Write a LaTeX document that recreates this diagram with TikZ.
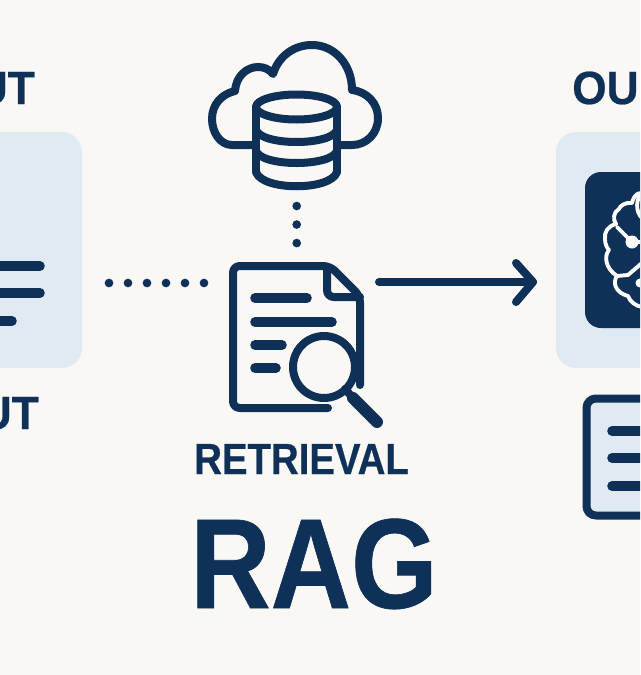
\documentclass[tikz,border=0pt]{standalone}
\usepackage{fontspec}
\setmainfont{Liberation Sans}
\newfontfamily\sidefont[FakeStretch=0.95, BoldFeatures={FakeBold=0.5}]{Liberation Sans}
\newfontfamily\capfont[FakeStretch=0.88, BoldFeatures={FakeBold=0.5}]{Liberation Sans}
\newfontfamily\bigcapfont[FakeStretch=0.87, BoldFeatures={FakeBold=0.5}]{Liberation Sans}
\usepackage{xcolor}
\definecolor{rag_navy}{HTML}{0F3157}
\definecolor{rag_pale}{HTML}{DFEAF3}
\definecolor{rag_paper}{HTML}{FAF8F5}
\tikzset{
  iconline/.style={line width=6pt, rag_navy, line cap=round, line join=round},
  textbar/.style={line width=7.2pt, rag_navy, line cap=round},
  dotline/.style={line width=6.5pt, rag_navy, line cap=round},
  brainline/.style={line width=2.9pt, white, line cap=round, line join=round},
  sidelabel/.style={inner sep=0pt, rag_navy, font=\sidefont\fontsize{34.9}{36}\bfseries\selectfont},
  paneltitle/.style={inner sep=0pt, rag_navy, font=\capfont\fontsize{32.7}{34}\bfseries\selectfont},
  bigtitle/.style={inner sep=0pt, rag_navy, font=\bigcapfont\fontsize{96}{98}\bfseries\selectfont}
}

\begin{document}
\begin{tikzpicture}[x=0.75pt, y=-0.75pt]
    % Paper and picture frame
    \fill[rag_paper] (0,0) rectangle (640,675);
    \path[use as bounding box, clip] (0,0) rectangle (640,675);

    % Input panel, cut by the left edge
    \fill[rag_pale, rounded corners=15pt] (-60,132) rectangle (82,368);
    \draw[textbar] (-10,266) -- (40,266);
    \draw[textbar] (-10,293) -- (40,293);
    \draw[textbar] (-10,321) -- (12,321);
    \node[sidelabel, anchor=base east] (inputtop) at (35,104) {UT};
    \node[sidelabel, anchor=base east] (inputbottom) at (39,429) {UT};

    % Cloud behind the database
    \draw[iconline] (253,145) -- (232,145)
      .. controls (220,145) and (212,132) .. (212,119)
      .. controls (212,104) and (222,94) .. (235,91)
      .. controls (236,76) and (247,67) .. (258,67)
      .. controls (264,67) and (269,69) .. (273,74)
      .. controls (279,55) and (295,45) .. (312,45)
      .. controls (335,45) and (352,65) .. (352,90)
      .. controls (368,92) and (378,104) .. (378,118)
      .. controls (378,134) and (366,145) .. (352,145) -- (338,145);

    % Database
    \draw[iconline] (296.5,107) ellipse [x radius=40.5, y radius=12.5];
    \draw[iconline] (256,107) -- (256,172);
    \draw[iconline] (337,107) -- (337,172);
    \foreach \bandy/\bandc in {130/146,151/167,172/191}
      \draw[iconline] (256,\bandy) .. controls (262,\bandc) and (331,\bandc) .. (337,\bandy);

    % Dotted links
    \coordinate (dbdots) at (296.7,206);
    \coordinate (docdots) at (296.7,244);
    \draw[dotline, dash pattern=on 0pt off 13.9pt] (dbdots) -- (docdots);
    \coordinate (inputdots) at (109,283);
    \coordinate (retrievedots) at (205,283);
    \draw[dotline, dash pattern=on 0pt off 14.25pt] (inputdots) -- (retrievedots);

    % Document with folded corner
    \draw[iconline, rounded corners=5pt] (328,408) -- (233,408) -- (233,266) -- (330,266) -- (360,296) -- (360,385);
    \draw[iconline, rounded corners=5pt] (327,268) -- (327,297) -- (360,297);
    \draw[textbar] (255,298) -- (307,298);
    \draw[textbar] (255,322) -- (332,322);
    \draw[textbar] (255,345) -- (282,345);
    \draw[textbar] (255,368) -- (276,368);

    % Magnifying glass
    \draw[iconline] (324,367) circle (31);
    \draw[iconline] (345,389) -- (355,400);
    \draw[iconline, line width=9pt] (353,398) -- (377,422);

    % Arrow to the output
    \coordinate (arrowstart) at (379,282);
    \coordinate (arrowtip) at (533,282);
    \draw[iconline] (arrowstart) -- (arrowtip);
    \draw[iconline] (516,263) -- (arrowtip) -- (516,302);

    % Output panel, cut by the right edge
    \fill[rag_pale, rounded corners=15pt] (556,132) rectangle (700,368);
    \fill[rag_navy, rounded corners=12pt] (585,172) rectangle (700,328);
    \node[sidelabel, anchor=base west] (outputtop) at (572,104) {OU};

    % Brain
    \draw[brainline] (642,193) .. controls (634,193) and (633,200) .. (632,203)
      .. controls (625,202) and (620,206) .. (619,209)
      .. controls (613,212) and (613,220) .. (616,224)
      .. controls (608,226) and (604,232) .. (605,239)
      .. controls (605,244) and (607,248) .. (609,250)
      .. controls (604,256) and (605,268) .. (617,276)
      .. controls (612,283) and (616,293) .. (628,296)
      .. controls (630,302) and (636,306) .. (642,307);
    \draw[brainline] (617,227) -- (632,242);
    \draw[brainline] (632,242) -- (642,242);
    \fill[white] (632,242) circle (6.5);
    \draw[brainline] (642,263) -- (628,275) -- (617,276);
    \fill[white] (640,283) circle (4.5);
    \draw[brainline] (642,193) .. controls (636,198) and (635,212) .. (642,218);

    % Output document
    \draw[iconline, fill=rag_pale, rounded corners=7pt] (586.5,398.5) rectangle (700,515.5);
    \draw[textbar] (612,431) -- (660,431);
    \draw[textbar] (612,458) -- (660,458);
    \draw[textbar] (612,486) -- (660,486);

    % Titles
    \node[paneltitle, anchor=base west] (retrieval) at (194,474) {RETRIEVAL};
    \node[bigtitle, anchor=base west] (rag) at (190,608) {RAG};
\end{tikzpicture}
\end{document}
